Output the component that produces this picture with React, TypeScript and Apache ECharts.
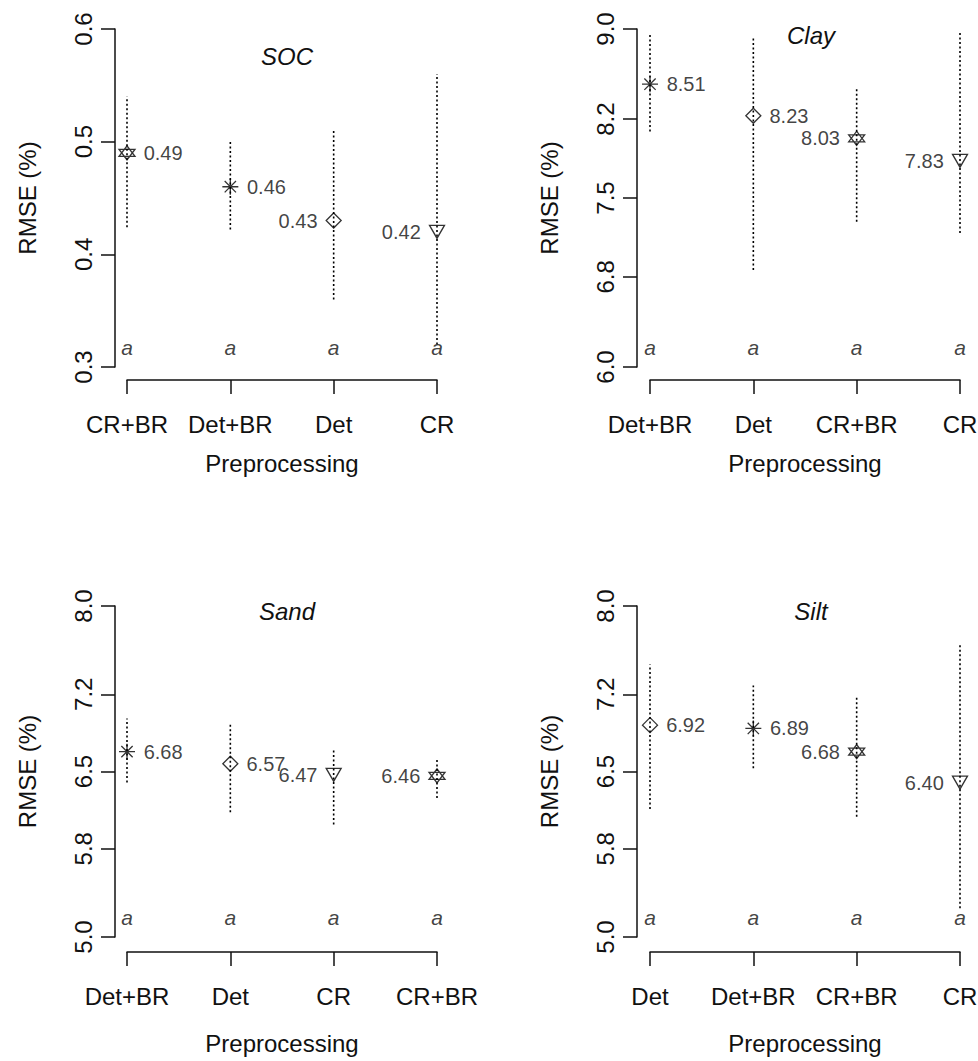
import React, { useEffect, useRef } from "react";
import * as echarts from "echarts";

// ---------- data ----------
const socCats = ["CR+BR", "Det+BR", "Det", "CR"];
const socVals = [0.49, 0.46, 0.43, 0.42];
const socLo = [0.424, 0.422, 0.36, 0.32];
const socHi = [0.54, 0.5, 0.511, 0.56];
const socTicks = [0.3, 0.4, 0.5, 0.6];

const clayCats = ["Det+BR", "Det", "CR+BR", "CR"];
const clayVals = [8.51, 8.23, 8.03, 7.83];
const clayLo = [8.09, 6.86, 7.29, 7.19];
const clayHi = [8.95, 8.93, 8.48, 8.97];
const clayTicks = [6.0, 6.8, 7.5, 8.2, 9.0];

const sandCats = ["Det+BR", "Det", "CR", "CR+BR"];
const sandVals = [6.68, 6.57, 6.47, 6.46];
const sandLo = [6.4, 6.13, 6.02, 6.26];
const sandHi = [6.98, 6.94, 6.7, 6.61];
const sandTicks = [5.0, 5.8, 6.5, 7.2, 8.0];

const siltCats = ["Det", "Det+BR", "CR+BR", "CR"];
const siltVals = [6.92, 6.89, 6.68, 6.4];
const siltLo = [6.16, 6.53, 6.09, 5.26];
const siltHi = [7.47, 7.28, 7.18, 7.66];
const siltTicks = [5.0, 5.8, 6.5, 7.2, 8.0];

const groupLetters = ["a", "a", "a", "a"];
const titles = ["SOC", "Clay", "Sand", "Silt"];
const yName = "RMSE (%)";
const xName = "Preprocessing";

// ---------- styles ----------
const FONT = "'Liberation Sans', Arial, sans-serif";
const INK = "#111111";

const SYMBOLS: Record<string, string> = {
  "CR+BR": "path://M0,-1 L0.866,0.5 L-0.866,0.5 Z M0,1 L0.866,-0.5 L-0.866,-0.5 Z",
  "Det+BR": "path://M0,-1 L0,1 M-1,0 L1,0 M-0.707,-0.707 L0.707,0.707 M-0.707,0.707 L0.707,-0.707",
  Det: "path://M0,-1 L1,0 L0,1 L-1,0 Z",
  CR: "path://M-1,-0.577 L1,-0.577 L0,1.155 Z",
};
const SIZES: Record<string, number[]> = {
  "CR+BR": [16, 14],
  "Det+BR": [16, 16],
  Det: [15, 15],
  CR: [15, 13],
};

const panels = [
  { cats: socCats, vals: socVals, lo: socLo, hi: socHi, ticks: socTicks, grid: { left: 127, top: 29, width: 310, height: 338 }, yOff: 12, xOff: 13, xGap: 71, title: [282, 53] },
  { cats: clayCats, vals: clayVals, lo: clayLo, hi: clayHi, ticks: clayTicks, grid: { left: 650, top: 29, width: 310, height: 338 }, yOff: 13, xOff: 13, xGap: 71, title: [806, 32] },
  { cats: sandCats, vals: sandVals, lo: sandLo, hi: sandHi, ticks: sandTicks, grid: { left: 127, top: 606, width: 310, height: 331 }, yOff: 12, xOff: 15, xGap: 79, title: [282, 608] },
  { cats: siltCats, vals: siltVals, lo: siltLo, hi: siltHi, ticks: siltTicks, grid: { left: 650, top: 606, width: 310, height: 331 }, yOff: 13, xOff: 15, xGap: 79, title: [806, 608] },
];

function buildOption() {
  const grid: any[] = [];
  const xAxis: any[] = [];
  const yAxis: any[] = [];
  const series: any[] = [];
  const title: any[] = [];

  panels.forEach((p, k) => {
    grid.push({ ...p.grid, containLabel: false, outerBoundsMode: "none" });
    const ymin = p.ticks[0];
    const ymax = p.ticks[p.ticks.length - 1];
    xAxis.push({
      gridIndex: k,
      type: "value",
      min: 1,
      max: p.cats.length,
      interval: 1,
      offset: p.xOff,
      splitLine: { show: false },
      axisLine: { show: true, lineStyle: { color: INK, width: 1.5 } },
      axisTick: { show: true, inside: false, length: 14, lineStyle: { color: INK, width: 1.5 } },
      axisLabel: {
        show: true,
        margin: 32,
        fontSize: 24,
        fontFamily: FONT,
        color: INK,
        showMinLabel: true,
        showMaxLabel: true,
        formatter: (v: number) => p.cats[Math.round(v) - 1] ?? "",
      },
      name: xName,
      nameLocation: "middle",
      nameGap: p.xGap,
      nameTextStyle: { fontSize: 24, fontFamily: FONT, color: INK },
    });
    yAxis.push({
      gridIndex: k,
      type: "value",
      min: ymin,
      max: ymax,
      offset: p.yOff,
      splitLine: { show: false },
      axisLine: { show: true, lineStyle: { color: INK, width: 1.5 } },
      axisTick: { show: true, inside: false, length: 14, customValues: p.ticks, lineStyle: { color: INK, width: 1.5 } },
      axisLabel: {
        show: true,
        rotate: 90,
        margin: 20,
        fontSize: 24,
        fontFamily: FONT,
        color: INK,
        customValues: p.ticks,
        showMinLabel: true,
        showMaxLabel: true,
        formatter: (v: number) => v.toFixed(1),
      },
      name: yName,
      nameLocation: "middle",
      nameRotate: 90,
      nameGap: 76,
      nameTextStyle: { fontSize: 24, fontFamily: FONT, color: INK },
    });

    title.push({
      text: titles[k],
      left: p.title[0],
      top: p.title[1] - 14,
      textAlign: "center",
      textStyle: { fontSize: 24, fontStyle: "italic", fontWeight: "normal", fontFamily: FONT, color: INK },
    });

    // error bars
    series.push({
      type: "custom",
      xAxisIndex: k,
      yAxisIndex: k,
      clip: false,
      data: p.cats.map((_, i) => [i + 1, p.lo[i], p.hi[i]]),
      renderItem: (params: any, api: any) => {
        const x = api.value(0);
        const a = api.coord([x, api.value(1)]);
        const b = api.coord([x, api.value(2)]);
        return {
          type: "line",
          shape: { x1: a[0], y1: a[1], x2: b[0], y2: b[1] },
          style: { stroke: "#000", lineWidth: 1.6, lineDash: [2, 2.5] },
        };
      },
      silent: true,
      z: 1,
    });

    // points with value labels
    series.push({
      type: "scatter",
      xAxisIndex: k,
      yAxisIndex: k,
      clip: false,
      silent: true,
      z: 3,
      data: p.cats.map((c, i) => ({
        value: [i + 1, p.vals[i]],
        symbol: SYMBOLS[c],
        symbolSize: SIZES[c],
        label: { position: i < 2 ? "right" : "left" },
      })),
      itemStyle: { color: "rgba(0,0,0,0)", borderColor: "#000", borderWidth: 1.3 },
      label: {
        show: true,
        distance: 8,
        fontSize: 20,
        fontFamily: FONT,
        color: INK,
        formatter: (d: any) => d.value[1].toFixed(2),
      },
    });

    // group letters
    series.push({
      type: "scatter",
      xAxisIndex: k,
      yAxisIndex: k,
      clip: false,
      silent: true,
      symbol: "circle",
      symbolSize: 0,
      data: groupLetters.map((g, i) => ({ value: [i + 1, ymin], name: g })),
      label: {
        show: true,
        position: "top",
        distance: 9,
        fontSize: 21,
        fontStyle: "italic",
        fontFamily: FONT,
        color: INK,
        formatter: (d: any) => d.name,
      },
    });
  });

  return {
    animation: false,
    backgroundColor: "#ffffff",
    title,
    grid,
    xAxis,
    yAxis,
    series,
  };
}

export default function App() {
  const ref = useRef<HTMLDivElement>(null);
  useEffect(() => {
    if (!ref.current) return;
    const chart = echarts.init(ref.current, null, { renderer: "svg" });
    chart.setOption(buildOption() as any);
    return () => chart.dispose();
  }, []);
  return (
    <div
      ref={ref}
      style={{ position: "absolute", left: 0, top: 0, width: 978, height: 1061, background: "#fff" }}
    />
  );
}
